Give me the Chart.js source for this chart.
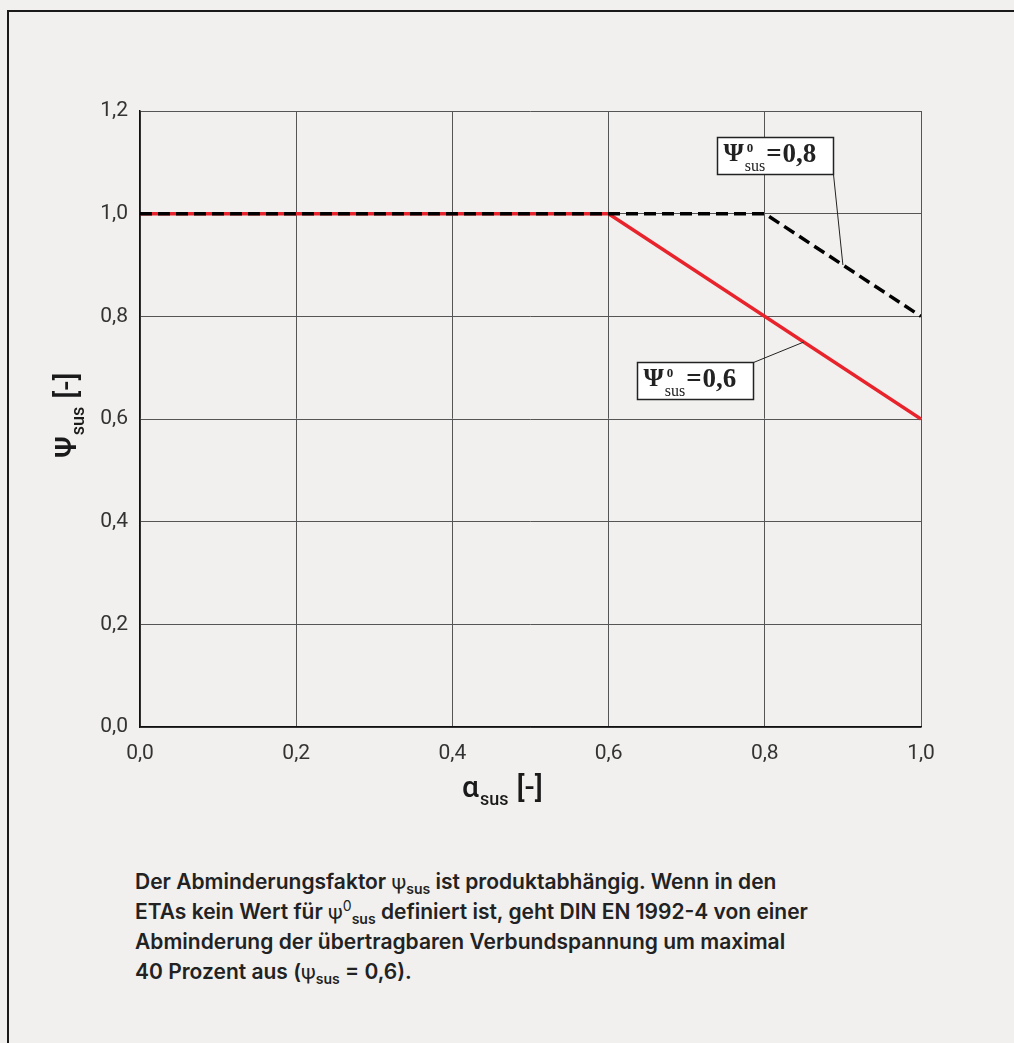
<!DOCTYPE html>
<html>
<head>
<meta charset="utf-8">
<script src="https://cdn.jsdelivr.net/npm/chart.js@4.4.0/dist/chart.umd.min.js"></script>
<style>
  html, body { margin: 0; padding: 0; background: #f1f0ee; }
  body { width: 1014px; height: 1043px; position: relative; overflow: hidden; font-family: Roboto, sans-serif; }
  #frame { position: absolute; left: 7px; top: 10px; width: 1020px; height: 1050px; border-left: 2px solid #1a1a1a; border-top: 2px solid #1a1a1a; }
  #wrap { position: absolute; left: 0; top: 0; width: 1014px; height: 820px; }
  #caption { position: absolute; left: 135px; top: 867px; font: 600 21px Inter, sans-serif; line-height: 30px; color: #222; white-space: nowrap; }
  #caption .psi { font-weight: 400; font-family: Roboto, sans-serif; }
  #caption sub, #caption sup { font-size: 14px; line-height: 0; }
  #caption sub { vertical-align: -5px; }
  #caption sup { vertical-align: 8px; font-weight: 400; }
</style>
</head>
<body>
<div id="frame"></div>
<div id="wrap"><canvas id="chart"></canvas></div>
<div id="caption">
  Der Abminderungsfaktor <span class="psi">ψ</span><sub>sus</sub> ist produktabhängig. Wenn in den<br>
  ETAs kein Wert für <span class="psi">ψ</span><sup>0</sup><sub>sus</sub> definiert ist, geht DIN EN 1992-4 von einer<br>
  Abminderung der übertragbaren Verbundspannung um maximal<br>
  40 Prozent aus (<span class="psi">ψ</span><sub>sus</sub> = 0,6).
</div>
<script>
// data
const alphaRed = [0, 0.6, 1.0];
const psiRed   = [1.0, 1.0, 0.6];
const alphaBlk = [0, 0.8, 1.0];
const psiBlk   = [1.0, 1.0, 0.8];
const xTicks = [0, 0.2, 0.4, 0.6, 0.8, 1.0];
const yTicks = [0, 0.2, 0.4, 0.6, 0.8, 1.0, 1.2];
const labelValues = ['0,8', '0,6'];
const labelTargets = [[0.9, 0.9], [0.85, 0.75]];

function fmt(v) { return v.toFixed(1).replace('.', ','); }
function pts(xs, ys) { return xs.map((x, i) => ({x: x, y: ys[i]})); }

// axis titles with subscripts
const axisTitles = {
  id: 'axisTitles',
  afterDraw(chart) {
    const ctx = chart.ctx;
    ctx.save();
    ctx.fillStyle = '#1a1a1a';
    ctx.textBaseline = 'alphabetic';
    ctx.textAlign = 'left';
    // x title
    var x = 462, y = 797;
    ctx.font = '500 30px Roboto';
    ctx.fillText('α', x, y); x += ctx.measureText('α').width + 1;
    ctx.font = '500 18px Roboto';
    ctx.fillText('sus', x, y + 8); x += ctx.measureText('sus').width + 8;
    ctx.font = '500 30px Roboto';
    ctx.fillText('[-]', x, y);
    // y title, rotated
    ctx.font = '500 30px Roboto';
    var w1 = ctx.measureText('Ψ').width, w3 = ctx.measureText('[-]').width;
    ctx.font = '500 18px Roboto';
    var w2 = ctx.measureText('sus').width;
    var total = w1 + 1 + w2 + 8 + w3;
    var cy = 415;
    ctx.translate(76, cy + total / 2);
    ctx.rotate(-Math.PI / 2);
    ctx.font = '500 30px Roboto';
    ctx.fillText('Ψ', 0, 0);
    ctx.font = '500 18px Roboto';
    ctx.fillText('sus', w1 + 1, 8);
    ctx.font = '500 30px Roboto';
    ctx.fillText('[-]', w1 + 1 + w2 + 8, 0);
    ctx.restore();
  }
};

// boxed labels with leader lines
const boxLabels = {
  id: 'boxLabels',
  afterDatasetsDraw(chart) {
    const ctx = chart.ctx, xs = chart.scales.x, ys = chart.scales.y;
    // box top-left in data units, and which corner the leader leaves from
    const boxes = [
      {bx: 0.739, by: 1.149, corner: 'br'},
      {bx: 0.637, by: 0.711, corner: 'tr'}
    ];
    const bw = 116, bh = 37;
    ctx.save();
    boxes.forEach(function(b, i) {
      var left = Math.round(xs.getPixelForValue(b.bx)) + 0.5;
      var top = Math.round(ys.getPixelForValue(b.by)) + 0.5;
      var tx = xs.getPixelForValue(labelTargets[i][0]);
      var ty = ys.getPixelForValue(labelTargets[i][1]);
      var cx = left + bw, cyy = b.corner === 'br' ? top + bh : top;
      ctx.strokeStyle = '#222';
      ctx.lineWidth = 1;
      ctx.beginPath(); ctx.moveTo(cx, cyy); ctx.lineTo(tx, ty); ctx.stroke();
      ctx.fillStyle = '#fff';
      ctx.fillRect(left, top, bw, bh);
      ctx.lineWidth = 1.5;
      ctx.strokeRect(left, top, bw, bh);
      ctx.fillStyle = '#222';
      ctx.textAlign = 'left';
      ctx.textBaseline = 'alphabetic';
      var x = left + 6, base = top + 23;
      ctx.font = 'bold 26px "Liberation Serif"';
      ctx.fillText('Ψ', x, base); x += ctx.measureText('Ψ').width + 1;
      ctx.font = 'bold 13px "Liberation Serif"';
      ctx.fillText('0', x + 2, base - 9);
      ctx.font = '16px "Liberation Serif"';
      ctx.fillText('sus', x, base + 10); x += ctx.measureText('sus').width + 1;
      ctx.font = 'bold 27px "Liberation Serif"';
      ctx.fillText('=', x, base + 1); x += ctx.measureText('=').width + 1;
      ctx.fillText(labelValues[i], x, base + 1);
    });
    ctx.restore();
  }
};

new Chart(document.getElementById('chart'), {
  type: 'scatter',
  data: {
    datasets: [
      {
        label: 'psi0 = 0,6',
        data: pts(alphaRed, psiRed),
        showLine: true,
        borderColor: '#e8232b',
        borderWidth: 3.5,
        pointRadius: 0,
        order: 1
      },
      {
        label: 'psi0 = 0,8',
        data: pts(alphaBlk, psiBlk),
        showLine: true,
        borderColor: '#000',
        borderWidth: 3.5,
        borderDash: [12, 6],
        pointRadius: 0,
        order: 0
      }
    ]
  },
  options: {
    responsive: true, maintainAspectRatio: false, animation: false,
    layout: { padding: { top: 111, right: 93, left: 0, bottom: 0 } },
    plugins: { legend: { display: false }, tooltip: { enabled: false } },
    scales: {
      x: {
        type: 'linear', min: 0, max: 1,
        afterBuildTicks: s => { s.ticks = xTicks.map(v => ({value: v})); },
        afterFit: s => { s.height = 93; },
        ticks: { callback: v => fmt(v), color: '#333', font: { family: 'Roboto', size: 21 }, padding: 14, maxRotation: 0 },
        grid: { color: '#555', lineWidth: 1, drawTicks: false },
        border: { color: '#111', width: 1.5 }
      },
      y: {
        type: 'linear', min: 0, max: 1.2,
        afterBuildTicks: s => { s.ticks = yTicks.map(v => ({value: v})); },
        afterFit: s => { s.width = 140; },
        ticks: { callback: v => fmt(v), color: '#333', font: { family: 'Roboto', size: 21 }, padding: 12 },
        grid: { color: '#555', lineWidth: 1, drawTicks: false },
        border: { color: '#111', width: 1.5 }
      }
    }
  },
  plugins: [axisTitles, boxLabels]
});
</script>
</body>
</html>
